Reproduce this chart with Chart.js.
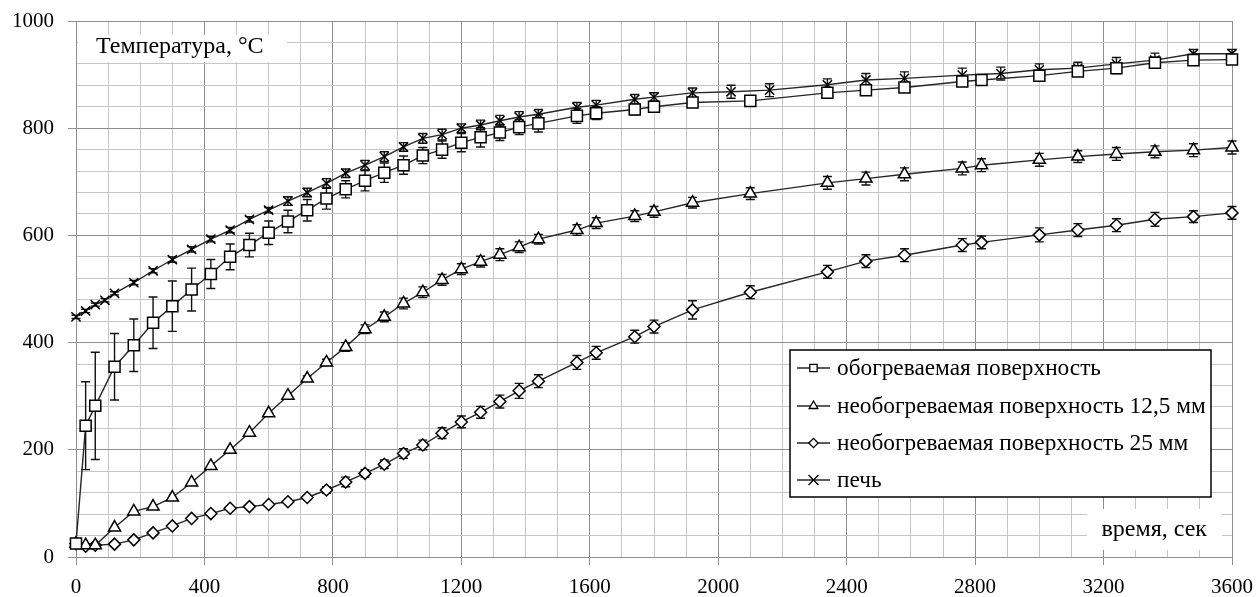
<!DOCTYPE html>
<html><head><meta charset="utf-8">
<script src="https://cdn.jsdelivr.net/npm/chart.js@4.4.1/dist/chart.umd.min.js"></script>
<style>html,body{margin:0;padding:0;background:#fff}#wrap{width:1258px;height:597px;position:relative}</style>
</head><body><div id="wrap"><canvas id="c"></canvas></div>
<script>
// ---- data ----
const seriesNames = ['обогреваемая поверхность', 'необогреваемая поверхность 12,5 мм', 'необогреваемая поверхность 25 мм', 'печь'];
const yTitle = 'Температура, °С';
const xTitle = 'время, сек';
const xTickLabels = [0, 400, 800, 1200, 1600, 2000, 2400, 2800, 3200, 3600];
const yTickLabels = [0, 200, 400, 600, 800, 1000];

const tSurface = [0,30,60,120,180,240,300,360,420,480,540,600,660,720,780,840,900,960,1020,1080,1140,1200,1260,1320,1380,1440,1560,1620,1740,1800,1920,2100,2340,2460,2580,2760,2820,3000,3120,3240,3360,3480,3600];
const vSurface = [25,245,282,355,395,437,468,499,528,560,582,605,626,647,669,686,702,717,731,749,760,773,783,792,802,809,823,828,835,840,848,851,866,871,876,887,890,898,906,912,922,927,928];
const eSurface = [0,82,100,62,49,48,47,40,27,24,22,22,21,20,20,16,19,18,17,15,16,17,18,15,14,16,14,12,10,10,8,0,8,8,8,8,8,8,8,10,10,8,8];

const tMid = [0,30,60,120,180,240,300,360,420,480,540,600,660,720,780,840,900,960,1020,1080,1140,1200,1260,1320,1380,1440,1560,1620,1740,1800,1920,2100,2340,2460,2580,2760,2820,3000,3120,3240,3360,3480,3600];
const vMid = [25,22,22,55,85,94,111,139,170,200,232,268,301,333,363,392,425,448,473,494,517,537,551,564,578,593,610,623,636,644,661,678,698,706,714,725,731,741,747,752,756,759,764];
const eMid = [0,0,0,0,0,0,0,0,0,0,0,0,0,5,6,8,8,9,10,10,10,10,10,11,10,9,10,10,10,10,10,11,12,12,12,12,12,12,11,12,11,12,12];

const tDeep = [0,30,60,120,180,240,300,360,420,480,540,600,660,720,780,840,900,960,1020,1080,1140,1200,1260,1320,1380,1440,1560,1620,1740,1800,1920,2100,2340,2460,2580,2760,2820,3000,3120,3240,3360,3480,3600];
const vDeep = [25,20,22,24,32,45,58,72,81,91,94,98,103,111,125,140,156,173,193,209,231,252,270,290,310,328,363,381,411,430,461,494,532,552,563,582,587,601,610,619,630,635,642];
const eDeep = [0,0,0,0,0,0,0,0,0,0,0,0,0,0,6,9,7,8,9,9,10,11,11,12,14,12,13,12,12,12,17,12,12,12,12,12,12,13,12,12,13,11,12];

const tFurnace = [0,30,60,90,120,180,240,300,360,420,480,540,600,660,720,780,840,900,960,1020,1080,1140,1200,1260,1320,1380,1440,1560,1620,1740,1800,1920,2040,2160,2340,2460,2580,2760,2880,3000,3120,3240,3360,3480,3600];
const vFurnace = [448,459,471,479,492,512,534,555,574,593,610,630,647,664,680,697,716,731,747,765,781,788,800,806,814,821,826,839,843,854,858,866,868,871,881,890,893,899,902,909,912,920,927,939,939];
const eFurnace = [3,3,3,3,3,4,4,5,5,5,5,5,5,8,8,9,8,9,9,8,9,10,8,9,10,10,9,9,9,9,8,9,12,12,11,12,12,13,12,11,11,12,13,8,8];

function pts(t, v) { return t.map((x, i) => ({x: x, y: v[i]})); }

const styles = [
  {pointStyle: 'rect', radius: 7.8, legendRadius: 5.2},
  {pointStyle: 'triangle', radius: 7, legendRadius: 5},
  {pointStyle: 'rectRot', radius: 6, legendRadius: 4.6},
  {pointStyle: 'crossRot', radius: 6.5, legendRadius: 7}
];

const datasets = [
  {label: seriesNames[0], data: pts(tSurface, vSurface), errors: eSurface},
  {label: seriesNames[1], data: pts(tMid, vMid), errors: eMid},
  {label: seriesNames[2], data: pts(tDeep, vDeep), errors: eDeep},
  {label: seriesNames[3], data: pts(tFurnace, vFurnace), errors: eFurnace}
].map((d, i) => Object.assign(d, {
  borderColor: '#262626', borderWidth: 1.4, tension: 0, clip: false,
  pointStyle: styles[i].pointStyle, pointRadius: styles[i].radius,
  pointBackgroundColor: '#fff', pointBorderColor: '#000', pointBorderWidth: 1.5,
  pointHoverRadius: styles[i].radius, fill: false
}));

const FONT = '"Liberation Serif", "Times New Roman", serif';

const errorBars = {
  id: 'errorBars',
  beforeDatasetsDraw(chart) {
    const ctx = chart.ctx, xs = chart.scales.x, ys = chart.scales.y;
    ctx.save();
    ctx.strokeStyle = '#111'; ctx.lineWidth = 1.4;
    chart.data.datasets.forEach(ds => {
      const err = ds.errors; if (!err) return;
      ds.data.forEach((p, j) => {
        const e = err[j]; if (!e) return;
        const x = xs.getPixelForValue(p.x);
        const y1 = ys.getPixelForValue(p.y + e), y2 = ys.getPixelForValue(p.y - e);
        ctx.beginPath();
        ctx.moveTo(x, y1); ctx.lineTo(x, y2);
        ctx.moveTo(x - 4.5, y1); ctx.lineTo(x + 4.5, y1);
        ctx.moveTo(x - 4.5, y2); ctx.lineTo(x + 4.5, y2);
        ctx.stroke();
      });
    });
    ctx.restore();
  }
};

const overlay = {
  id: 'overlay',
  afterDraw(chart) {
    const ctx = chart.ctx;
    ctx.save();
    // axis titles inside the plot
    ctx.fillStyle = '#fff';
    ctx.fillRect(78, 35, 209, 27);
    ctx.fillRect(1087, 509, 135, 41);
    ctx.fillStyle = '#000';
    ctx.font = '24px ' + FONT;
    ctx.textBaseline = 'middle';
    ctx.textAlign = 'left';
    ctx.fillText(yTitle, 96, 47);
    ctx.textAlign = 'right';
    ctx.fillText(xTitle, 1207, 530);
    // legend
    const bx = 790, by = 350, bw = 421, bh = 147;
    ctx.fillStyle = '#fff';
    ctx.fillRect(bx, by, bw, bh);
    ctx.strokeStyle = '#000'; ctx.lineWidth = 1.5;
    ctx.strokeRect(bx, by, bw, bh);
    const rows = [368, 406, 443, 480];
    chart.data.datasets.forEach((ds, i) => {
      const y = rows[i];
      ctx.strokeStyle = '#262626'; ctx.lineWidth = 1.4;
      ctx.beginPath(); ctx.moveTo(797, y); ctx.lineTo(830, y); ctx.stroke();
      ctx.fillStyle = '#fff'; ctx.strokeStyle = '#000'; ctx.lineWidth = 1.3;
      Chart.helpers.drawPoint(ctx, {pointStyle: styles[i].pointStyle, radius: styles[i].legendRadius, rotation: 0, borderWidth: 1.3}, 813.5, y);
      ctx.fillStyle = '#000';
      ctx.font = '23.3px ' + FONT;
      ctx.textAlign = 'left'; ctx.textBaseline = 'middle';
      ctx.fillText(ds.label, 837, y + 1);
    });
    ctx.restore();
  }
};

const MAJOR = '#8e8e8e', MINOR = '#c6c6c6';

new Chart(document.getElementById('c'), {
  type: 'line',
  data: {datasets: datasets},
  options: {
    responsive: true, maintainAspectRatio: false, animation: false,
    layout: {padding: {left: 0, right: 26, top: 21, bottom: 0}},
    plugins: {legend: {display: false}, tooltip: {enabled: false}},
    scales: {
      x: {
        type: 'linear', min: 0, max: 3600,
        afterFit: s => { s.height = 40; s.paddingLeft = 0; s.paddingRight = 0; },
        afterBuildTicks: s => { const a = []; for (let v = 0; v <= 3600; v += 100) a.push({value: v}); s.ticks = a; },
        ticks: {
          autoSkip: false, maxRotation: 0, padding: 10, color: '#000',
          font: {family: FONT, size: 21},
          callback: v => xTickLabels.includes(v) ? String(v) : ''
        },
        grid: {
          color: c => (c.tick && c.tick.value % 400 === 0) ? MAJOR : MINOR,
          tickColor: c => (c.tick && c.tick.value % 400 === 0) ? MAJOR : 'rgba(0,0,0,0)',
          tickLength: 8, lineWidth: 1
        },
        border: {color: MAJOR}
      },
      y: {
        min: 0, max: 1000,
        afterFit: s => { s.width = 76; s.paddingTop = 0; s.paddingBottom = 0; },
        afterBuildTicks: s => { const a = []; for (let v = 0; v <= 1000; v += 40) a.push({value: v}); s.ticks = a; },
        ticks: {
          autoSkip: false, padding: 14, color: '#000',
          font: {family: FONT, size: 21},
          callback: v => yTickLabels.includes(v) ? String(v) : ''
        },
        grid: {
          color: c => (c.tick && c.tick.value % 200 === 0) ? MAJOR : MINOR,
          tickColor: c => (c.tick && c.tick.value % 200 === 0) ? MAJOR : 'rgba(0,0,0,0)',
          tickLength: 8, lineWidth: 1
        },
        border: {color: MAJOR}
      }
    }
  },
  plugins: [errorBars, overlay]
});
</script></body></html>
